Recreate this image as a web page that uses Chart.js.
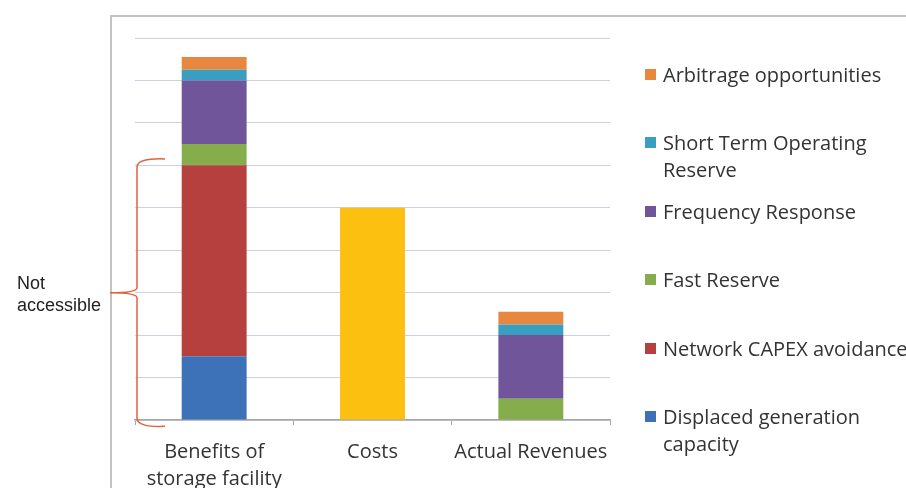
<!DOCTYPE html>
<html>
<head>
<meta charset="utf-8">
<script src="https://cdn.jsdelivr.net/npm/chart.js@4.4.1/dist/chart.umd.min.js"></script>
<style>
    html, body { margin: 0; padding: 0; background: #ffffff; }
    #wrap { position: relative; width: 906px; height: 488px; overflow: hidden; }
    #frame { position: absolute; left: 110px; top: 15px; width: 900px; height: 600px;
             border: 2px solid #c3c3c3; box-sizing: border-box; }
    #storage-chart { position: absolute; left: 0; top: 0; }
    #legend { position: absolute; left: 645px; top: 61px; font-family: 'Open Sans', sans-serif;
              font-size: 20px; color: #333333; white-space: nowrap; }
    .item { position: relative; height: 68.4px; line-height: 27px; padding-left: 18px; }
    .item .sw { position: absolute; left: 0; top: 8px; width: 11px; height: 11px; }
</style>
</head>
<body>
<div id="wrap">
    <div id="frame"></div>
    <canvas id="storage-chart" width="906" height="488"></canvas>
    <div id="legend"></div>
</div>
<script>
// categories and values (one grid step = 1 unit)
const categories = [['Benefits of', 'storage facility'], 'Costs', 'Actual Revenues'];
const displacedGeneration = [1.5, 0, 0];
const networkCapex = [4.5, 0, 0];
const fastReserve = [0.5, 0, 0.5];
const frequencyResponse = [1.5, 0, 1.5];
const shortTermReserve = [0.25, 0, 0.25];
const arbitrage = [0.3, 0, 0.3];
const costs = [0, 5, 0];
const notAccessibleRange = [-0.15, 6.15];

const colors = {
    blue: '#3d72b8',
    red: '#b5403d',
    green: '#86ad4c',
    purple: '#71559a',
    teal: '#3a9ec0',
    orange: '#e8873f',
    yellow: '#fcc010',
    brace: '#e5603f'
};

const series = [
    { label: 'Displaced generation capacity', data: displacedGeneration, color: colors.blue, legend: ['Displaced generation', 'capacity'] },
    { label: 'Network CAPEX avoidance', data: networkCapex, color: colors.red, legend: ['Network CAPEX avoidance'] },
    { label: 'Fast Reserve', data: fastReserve, color: colors.green, legend: ['Fast Reserve'] },
    { label: 'Frequency Response', data: frequencyResponse, color: colors.purple, legend: ['Frequency Response'] },
    { label: 'Short Term Operating Reserve', data: shortTermReserve, color: colors.teal, legend: ['Short Term Operating', 'Reserve'] },
    { label: 'Arbitrage opportunities', data: arbitrage, color: colors.orange, legend: ['Arbitrage opportunities'] }
];

const datasets = series.map(s => ({
    label: s.label,
    data: s.data,
    backgroundColor: s.color,
    borderWidth: 0
}));
datasets.push({ label: 'Costs', data: costs, backgroundColor: colors.yellow, borderWidth: 0 });

// 大括号 + 标注
const bracePlugin = {
    id: 'notAccessible',
    afterDraw(chart) {
        const { ctx, chartArea } = chart;
        const y = chart.scales.y;
        const top = y.getPixelForValue(notAccessibleRange[1]);
        const bottom = y.getPixelForValue(notAccessibleRange[0]);
        const mid = (top + bottom) / 2;
        const xl = chartArea.left + 2;
        const tip = chartArea.left - 25;
        const endX = chartArea.left + 30;
        ctx.save();
        ctx.strokeStyle = colors.brace;
        ctx.lineWidth = 1.5;
        ctx.beginPath();
        ctx.moveTo(endX, top);
        ctx.quadraticCurveTo(xl, top - 1, xl, top + 8);
        ctx.lineTo(xl, mid - 5);
        ctx.quadraticCurveTo(xl, mid, tip, mid);
        ctx.quadraticCurveTo(xl, mid, xl, mid + 5);
        ctx.lineTo(xl, bottom - 8);
        ctx.quadraticCurveTo(xl, bottom + 1, endX, bottom);
        ctx.stroke();
        ctx.fillStyle = '#222222';
        ctx.font = '18px "Liberation Sans", Arial, sans-serif';
        ctx.textBaseline = 'middle';
        ctx.textAlign = 'left';
        ctx.fillText('Not', 17, mid - 9);
        ctx.fillText('accessible', 17, mid + 13);
        ctx.restore();
    }
};

const ctx = document.getElementById('storage-chart').getContext('2d');
new Chart(ctx, {
    type: 'bar',
    data: { labels: categories, datasets: datasets },
    options: {
        responsive: false,
        animation: false,
        layout: { padding: { left: 0, right: 296, top: 38, bottom: 0 } },
        datasets: { bar: { barPercentage: 0.41, categoryPercentage: 1 } },
        plugins: { legend: { display: false }, tooltip: { enabled: false } },
        scales: {
            x: {
                stacked: true,
                afterFit(scale) { scale.height = 68; },
                grid: { drawOnChartArea: false, tickLength: 5, color: '#a6a6a6', offset: true },
                border: { color: '#a6a6a6', width: 1.5 },
                ticks: {
                    color: '#333333',
                    padding: 14,
                    autoSkip: false,
                    maxRotation: 0,
                    minRotation: 0,
                    font: { family: 'Open Sans', size: 20, lineHeight: 1.35 }
                }
            },
            y: {
                stacked: true,
                min: 0,
                max: 9,
                afterFit(scale) { scale.width = 135; },
                ticks: { stepSize: 1, display: false },
                grid: { color: '#cbd0e3', lineWidth: 1, drawTicks: false },
                border: { display: false }
            }
        }
    },
    plugins: [bracePlugin]
});

// legend, top item = last series
const legendEl = document.getElementById('legend');
series.slice().reverse().forEach(s => {
    const item = document.createElement('div');
    item.className = 'item';
    const sw = document.createElement('span');
    sw.className = 'sw';
    sw.style.background = s.color;
    item.appendChild(sw);
    item.insertAdjacentHTML('beforeend', s.legend.join('<br>'));
    legendEl.appendChild(item);
});
</script>
</body>
</html>
